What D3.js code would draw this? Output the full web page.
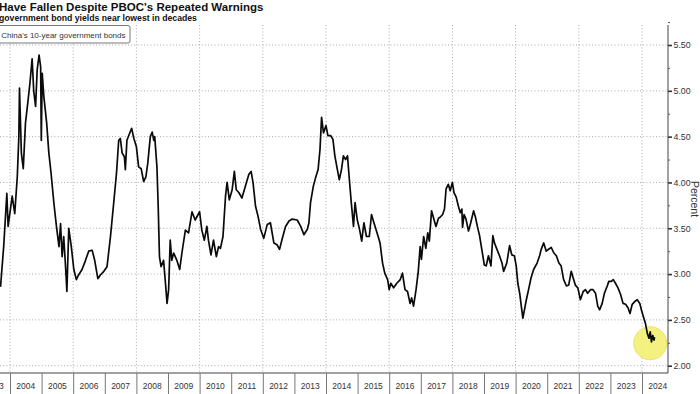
<!DOCTYPE html>
<html>
<head>
<meta charset="utf-8">
<script src="https://cdn.jsdelivr.net/npm/d3@7"></script>
<style>
  body { margin: 0; background: #fff; }
  svg { display: block; font-family: "Liberation Sans", Arial, sans-serif; }
</style>
</head>
<body>
<script>
// yield on China's 10-year government bonds (decimal years)
const dates = [
  2003.70, 2003.80, 2003.90, 2003.94, 2004.07, 2004.15, 2004.23, 2004.28, 2004.30, 2004.36,
  2004.42, 2004.49, 2004.55, 2004.63, 2004.70, 2004.75, 2004.81, 2004.86, 2004.92, 2004.97,
  2004.99, 2005.02, 2005.07, 2005.16, 2005.23, 2005.30, 2005.39, 2005.47, 2005.55, 2005.60,
  2005.65, 2005.70, 2005.77, 2005.80, 2005.86, 2005.94, 2006.02, 2006.10, 2006.17, 2006.28,
  2006.39, 2006.49, 2006.60, 2006.68, 2006.78, 2006.86, 2006.97, 2007.07, 2007.18, 2007.28,
  2007.37, 2007.44, 2007.49, 2007.55, 2007.62, 2007.65, 2007.70, 2007.79, 2007.85, 2007.92,
  2008.00, 2008.07, 2008.15, 2008.23, 2008.30, 2008.36, 2008.44, 2008.50, 2008.55, 2008.58,
  2008.65, 2008.69, 2008.73, 2008.78, 2008.86, 2008.92, 2008.97, 2009.02, 2009.07, 2009.12,
  2009.18, 2009.28, 2009.37, 2009.44, 2009.55, 2009.65, 2009.76, 2009.86, 2010.00, 2010.07,
  2010.15, 2010.23, 2010.28, 2010.36, 2010.44, 2010.53, 2010.60, 2010.66, 2010.74, 2010.82,
  2010.87, 2010.94, 2011.03, 2011.10, 2011.16, 2011.24, 2011.34, 2011.45, 2011.56, 2011.63,
  2011.69, 2011.77, 2011.85, 2011.93, 2012.03, 2012.14, 2012.24, 2012.35, 2012.45, 2012.53,
  2012.61, 2012.72, 2012.83, 2012.93, 2013.09, 2013.20, 2013.30, 2013.41, 2013.46, 2013.51,
  2013.60, 2013.67, 2013.75, 2013.81, 2013.86, 2013.92, 2014.00, 2014.06, 2014.15, 2014.22,
  2014.28, 2014.36, 2014.42, 2014.49, 2014.55, 2014.62, 2014.68, 2014.74, 2014.80, 2014.87,
  2014.92, 2014.99, 2015.06, 2015.13, 2015.20, 2015.28, 2015.37, 2015.44, 2015.50, 2015.58,
  2015.65, 2015.71, 2015.79, 2015.86, 2015.95, 2016.00, 2016.05, 2016.14, 2016.24, 2016.35,
  2016.42, 2016.50, 2016.58, 2016.66, 2016.71, 2016.77, 2016.85, 2016.92, 2016.98, 2017.02,
  2017.09, 2017.16, 2017.22, 2017.27, 2017.34, 2017.43, 2017.48, 2017.56, 2017.61, 2017.69,
  2017.75, 2017.80, 2017.87, 2017.93, 2018.00, 2018.05, 2018.12, 2018.19, 2018.25, 2018.30,
  2018.32, 2018.37, 2018.43, 2018.51, 2018.58, 2018.67, 2018.73, 2018.79, 2018.86, 2018.93,
  2019.01, 2019.07, 2019.14, 2019.22, 2019.28, 2019.33, 2019.41, 2019.49, 2019.57, 2019.62,
  2019.72, 2019.81, 2019.88, 2019.96, 2020.02, 2020.07, 2020.13, 2020.18, 2020.23, 2020.28,
  2020.34, 2020.41, 2020.49, 2020.57, 2020.68, 2020.76, 2020.81, 2020.89, 2020.97, 2021.04,
  2021.13, 2021.21, 2021.29, 2021.37, 2021.44, 2021.52, 2021.61, 2021.68, 2021.76, 2021.82,
  2021.89, 2021.97, 2022.05, 2022.14, 2022.21, 2022.28, 2022.37, 2022.45, 2022.53, 2022.60,
  2022.66, 2022.74, 2022.81, 2022.90, 2022.95, 2023.03, 2023.09, 2023.16, 2023.24, 2023.32,
  2023.40, 2023.48, 2023.56, 2023.62, 2023.69, 2023.77, 2023.85, 2023.93, 2023.98, 2024.04,
  2024.11, 2024.17, 2024.22, 2024.26, 2024.30, 2024.34, 2024.38, 2024.40
];
const yields = [
  2.86, 3.30, 3.88, 3.52, 3.85, 3.66, 4.06, 4.50, 5.03, 4.32,
  4.15, 4.65, 4.83, 5.08, 5.35, 5.00, 4.83, 5.23, 5.39, 5.26,
  4.46, 5.19, 4.94, 4.65, 4.32, 4.10, 3.77, 3.52, 3.30, 3.55,
  3.19, 3.41, 3.01, 2.81, 3.50, 3.30, 3.05, 2.94, 2.99, 3.05,
  3.15, 3.25, 3.26, 3.15, 2.95, 2.99, 3.03, 3.08, 3.41, 3.77,
  4.10, 4.46, 4.48, 4.32, 4.28, 4.14, 4.46, 4.54, 4.59, 4.48,
  4.39, 4.17, 4.15, 4.01, 4.06, 4.21, 4.50, 4.55, 4.46, 4.50,
  4.17, 3.74, 3.19, 3.08, 3.15, 2.90, 2.68, 2.83, 3.37, 3.15,
  3.23, 3.15, 3.05, 3.23, 3.48, 3.45, 3.68, 3.59, 3.68, 3.48,
  3.37, 3.52, 3.37, 3.21, 3.37, 3.19, 3.30, 3.28, 3.41, 3.85,
  4.00, 3.81, 3.92, 4.12, 3.92, 3.89, 3.83, 3.96, 4.09, 4.12,
  4.00, 3.74, 3.63, 3.49, 3.39, 3.54, 3.56, 3.34, 3.32, 3.27,
  3.38, 3.52, 3.58, 3.60, 3.59, 3.52, 3.43, 3.49, 3.56, 3.78,
  3.96, 4.05, 4.14, 4.36, 4.71, 4.54, 4.62, 4.51, 4.51, 4.47,
  4.29, 4.14, 4.03, 4.14, 4.29, 4.25, 4.29, 4.03, 3.78, 3.52,
  3.78, 3.59, 3.49, 3.36, 3.56, 3.41, 3.41, 3.65, 3.58, 3.49,
  3.41, 3.34, 3.12, 3.01, 2.94, 2.83, 2.90, 2.85, 2.90, 2.94,
  3.01, 2.83, 2.81, 2.68, 2.74, 2.65, 2.83, 3.03, 3.30, 3.16,
  3.41, 3.28, 3.45, 3.36, 3.69, 3.58, 3.52, 3.61, 3.62, 3.65,
  3.71, 3.93, 3.98, 3.91, 4.00, 3.89, 3.84, 3.74, 3.67, 3.71,
  3.51, 3.65, 3.60, 3.47, 3.56, 3.69, 3.62, 3.52, 3.42, 3.27,
  3.10, 3.09, 3.20, 3.09, 3.42, 3.34, 3.27, 3.20, 3.12, 3.03,
  3.12, 3.31, 3.21, 3.20, 3.09, 2.90, 2.79, 2.65, 2.52, 2.61,
  2.72, 2.83, 2.96, 3.05, 3.12, 3.20, 3.27, 3.34, 3.25, 3.27,
  3.29, 3.23, 3.20, 3.12, 3.09, 2.94, 2.87, 2.88, 3.03, 2.96,
  2.88, 2.85, 2.72, 2.81, 2.83, 2.79, 2.83, 2.83, 2.79, 2.65,
  2.61, 2.68, 2.79, 2.87, 2.92, 2.92, 2.94, 2.90, 2.85, 2.78,
  2.68, 2.67, 2.63, 2.57, 2.67, 2.70, 2.72, 2.68, 2.61, 2.54,
  2.46, 2.35, 2.30, 2.37, 2.26, 2.33, 2.28, 2.31
];
const years = d3.range(2003, 2025);          // year bands on the x axis
const gridYears = d3.range(2004, 2025, 2);   // dotted vertical grid
const yTicks = [2.0, 2.5, 3.0, 3.5, 4.0, 4.5, 5.0, 5.5];
const yMinor = [2.25, 2.75, 3.25, 3.75, 4.25, 4.75, 5.25, 5.75];
const highlight = [{ date: 2024.26, value: 2.245 }];

const w = 700, h = 394;
const plotRight = 668, plotTop = 25, plotBottom = 373;

const svg = d3.select("body").append("svg")
  .attr("width", w)
  .attr("height", h);

const x = d3.scaleLinear().domain([2004, 2024]).range([10, 642]);
const y = d3.scaleLinear().domain([2, 5.5]).range([365.7, 45]);

// grid
svg.append("g").selectAll("line")
  .data(yTicks)
  .enter().append("line")
  .attr("x1", 0).attr("x2", plotRight)
  .attr("y1", d => y(d)).attr("y2", d => y(d))
  .attr("stroke", "#aaa")
  .attr("stroke-dasharray", "1,2.2");

svg.append("g").selectAll("line")
  .data(gridYears)
  .enter().append("line")
  .attr("x1", d => x(d)).attr("x2", d => x(d))
  .attr("y1", plotTop).attr("y2", plotBottom)
  .attr("stroke", "#aaa")
  .attr("stroke-dasharray", "1,2.2");

// highlight circle round the latest readings
svg.append("g").selectAll("circle")
  .data(highlight)
  .enter().append("circle")
  .attr("cx", d => x(d.date))
  .attr("cy", d => y(d.value))
  .attr("r", 16.5)
  .attr("fill", "#f3ee6b")
  .attr("fill-opacity", 0.85)
  .attr("stroke", "#e9e26c")
  .attr("stroke-width", 1);

// the yield line
const line = d3.line()
  .x((d, i) => x(dates[i]))
  .y(d => y(d));

svg.append("path")
  .datum(yields)
  .attr("d", line)
  .attr("fill", "none")
  .attr("stroke", "#0a0a0a")
  .attr("stroke-width", 1.7)
  .attr("stroke-linejoin", "round");

// right axis
svg.append("line")
  .attr("x1", plotRight).attr("x2", plotRight)
  .attr("y1", plotTop).attr("y2", plotBottom)
  .attr("stroke", "#444");

const yAxis = svg.append("g")
  .attr("transform", `translate(${plotRight},0)`)
  .call(d3.axisRight(y).tickValues(yTicks).tickFormat(d3.format(".2f")).tickSize(4).tickPadding(1.5));
yAxis.select(".domain").remove();
yAxis.selectAll(".tick line").attr("stroke", "#333").attr("stroke-width", 1.6);
yAxis.selectAll("text")
  .attr("fill", "#333")
  .style("font-size", "8.8px")
  .style("font-family", "\"Liberation Sans\", Arial, sans-serif");

const yMinorAxis = svg.append("g")
  .attr("transform", `translate(${plotRight},0)`)
  .call(d3.axisRight(y).tickValues(yMinor).tickFormat("").tickSize(2));
yMinorAxis.select(".domain").remove();
yMinorAxis.selectAll(".tick line").attr("stroke", "#555");

svg.append("text")
  .text("Percent")
  .attr("transform", "translate(691,199) rotate(90)")
  .attr("text-anchor", "middle")
  .attr("fill", "#333")
  .style("font-size", "10.5px");

// bottom axis: a baseline, year dividers and centred year labels
svg.append("line")
  .attr("x1", 0).attr("x2", plotRight)
  .attr("y1", plotBottom).attr("y2", plotBottom)
  .attr("stroke", "#444");

const xAxis = svg.append("g")
  .attr("transform", `translate(0,${plotBottom})`)
  .call(d3.axisBottom(x).tickValues(years).tickFormat("").tickSize(h - plotBottom));
xAxis.select(".domain").remove();
xAxis.selectAll(".tick line").attr("stroke", "#777");

svg.append("g").selectAll("text")
  .data(years)
  .enter().append("text")
  .text(d => d)
  .attr("x", d => x(d + 0.5))
  .attr("y", 389)
  .attr("text-anchor", "middle")
  .attr("fill", "#333")
  .style("font-size", "8.5px");

// title, subtitle and legend (cut off at the left edge like the original)
svg.append("text")
  .text("Have Fallen Despite PBOC's Repeated Warnings")
  .attr("x", -1)
  .attr("y", 11)
  .attr("fill", "#111")
  .style("font-weight", "bold")
  .style("font-size", "11.5px");

svg.append("text")
  .text("government bond yields near lowest in decades")
  .attr("x", -1)
  .attr("y", 20.5)
  .attr("fill", "#111")
  .style("font-weight", "bold")
  .style("font-size", "8.7px");

svg.append("rect")
  .attr("x", -10).attr("y", 25.5)
  .attr("width", 140).attr("height", 17.5)
  .attr("rx", 2)
  .attr("fill", "#fff")
  .attr("stroke", "#777");

svg.append("text")
  .text("Yield on China's 10-year government bonds")
  .attr("x", 125.5)
  .attr("y", 38)
  .attr("text-anchor", "end")
  .attr("fill", "#333")
  .style("font-size", "8px");
</script>
</body>
</html>
